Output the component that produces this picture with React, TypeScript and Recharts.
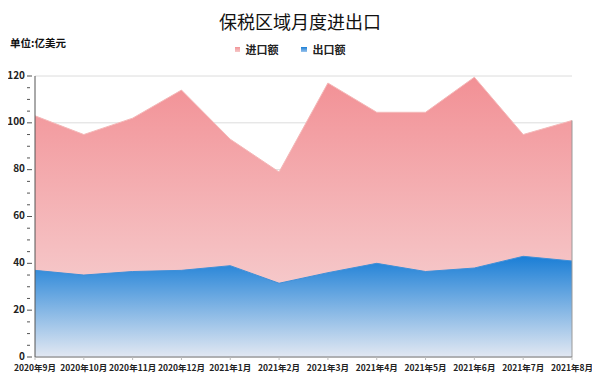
import React from 'react';
import { AreaChart, Area, XAxis, YAxis, CartesianGrid, ReferenceLine } from 'recharts';

const months = [
  '2020年9月', '2020年10月', '2020年11月', '2020年12月', '2021年1月', '2021年2月',
  '2021年3月', '2021年4月', '2021年5月', '2021年6月', '2021年7月', '2021年8月',
];
const importValues = [103, 95, 102, 114, 93, 79, 117, 104.5, 104.5, 119.5, 95, 101];
const exportValues = [37, 35, 36.5, 37, 39, 31.5, 36, 40, 36.5, 38, 43, 41];
const yTicks = [0, 20, 40, 60, 80, 100, 120];
const yMinorTicks = [0, 5, 10, 15, 20, 25, 30, 35, 40, 45, 50, 55, 60, 65, 70, 75, 80, 85, 90, 95, 100, 105, 110, 115, 120];

const FONT = '"Noto Sans CJK SC", "Noto Sans", sans-serif';

const chartData = months.map((m, i) => ({
  month: m,
  imports: importValues[i],
  exports: exportValues[i],
}));

// major ticks carry a label, minor ones are just short marks
const YTick = ({ x, y, payload }: any) => {
  const major = yTicks.includes(payload.value);
  return (
    <g>
      <line x1={x} x2={x + (major ? 5 : 3)} y1={y} y2={y} stroke="#555" strokeWidth={1} />
      {major && (
        <text x={x - 2} y={y - 1} dy="0.35em" textAnchor="end" fontSize={10} fontWeight="bold" fill="#222" fontFamily={FONT}>
          {payload.value}
        </text>
      )}
    </g>
  );
};

export default function App() {
  return (
    <div style={{ position: 'relative', width: 600, height: 383, margin: -8, background: '#fff', overflow: 'hidden' }}>
      <div style={{ position: 'absolute', left: 2, top: 2, width: 593, height: 377, border: '1px solid #e2e2e2' }} />
      <div style={{ position: 'absolute', left: 0, top: 8, width: 600, textAlign: 'center', fontFamily: FONT, fontSize: 18, color: '#111', lineHeight: '26px' }}>
        保税区域月度进出口
      </div>
      <div style={{ position: 'absolute', left: 10, top: 36, fontFamily: FONT, fontSize: 10.5, fontWeight: 'bold', color: '#111', lineHeight: '14px' }}>
        单位:亿美元
      </div>
      <div style={{ position: 'absolute', left: 0, top: 42, width: 580, display: 'flex', justifyContent: 'center', alignItems: 'center', fontFamily: FONT, fontSize: 11, fontWeight: 'bold', color: '#222', lineHeight: '14px' }}>
        <span style={{ display: 'inline-block', width: 5, height: 5, background: 'linear-gradient(#f29497, #f5c8c8)', marginRight: 6 }} />
        <span style={{ marginRight: 22 }}>进口额</span>
        <span style={{ display: 'inline-block', width: 6, height: 5, background: 'linear-gradient(#1a7ed6, #9cc4ec)', marginRight: 6 }} />
        <span>出口额</span>
      </div>
      <div style={{ position: 'absolute', left: 0, top: 0 }}>
        <AreaChart width={600} height={383} data={chartData} margin={{ top: 76, right: 28, bottom: 0, left: 0 }}>
          <defs>
            <linearGradient id="importFill" x1="0" y1="0" x2="0" y2="1">
              <stop offset="0%" stopColor="#f29095" />
              <stop offset="100%" stopColor="#f7dcdc" />
            </linearGradient>
            <linearGradient id="exportFill" x1="0" y1="0" x2="0" y2="1">
              <stop offset="0%" stopColor="#1a7ed6" />
              <stop offset="100%" stopColor="#e2e8f2" />
            </linearGradient>
          </defs>
          <CartesianGrid vertical={false} horizontalValues={yTicks} stroke="#dcdcdc" />
          <XAxis
            dataKey="month"
            interval={0}
            height={26}
            tickSize={3}
            tickMargin={5}
            stroke="#777"
            tickLine={{ stroke: '#bbb' }}
            tick={{ fontSize: 8.5, fontWeight: 'bold', fill: '#222', fontFamily: FONT }}
          />
          <YAxis
            width={35}
            domain={[0, 120]}
            ticks={yMinorTicks}
            interval={0}
            stroke="#555"
            tickLine={false}
            tick={<YTick />}
          />
          <Area
            type="linear"
            dataKey="imports"
            name="进口额"
            stroke="#f4b8b8"
            strokeWidth={1}
            fill="url(#importFill)"
            fillOpacity={1}
            isAnimationActive={false}
          />
          <Area
            type="linear"
            dataKey="exports"
            name="出口额"
            stroke="#3f8fd8"
            strokeWidth={1}
            fill="url(#exportFill)"
            fillOpacity={1}
            isAnimationActive={false}
          />
          <ReferenceLine
            segment={[{ x: months[months.length - 1], y: 0 }, { x: months[months.length - 1], y: importValues[importValues.length - 1] }]}
            stroke="#999"
          />
        </AreaChart>
      </div>
    </div>
  );
}
